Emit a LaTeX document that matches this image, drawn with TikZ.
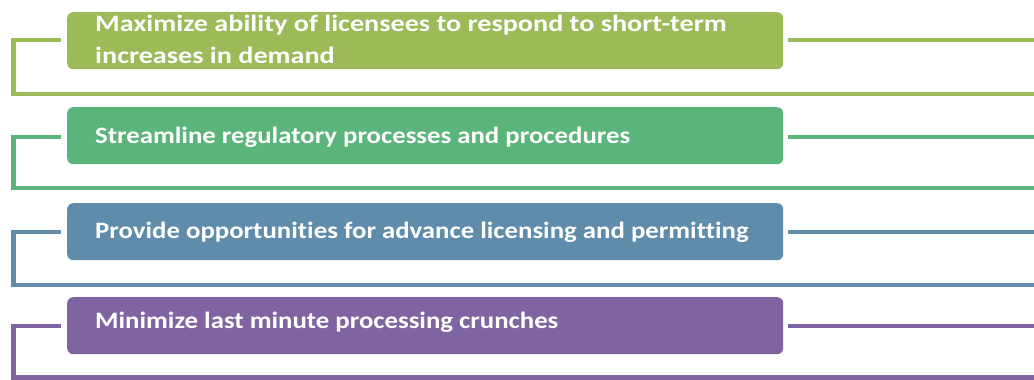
\documentclass[tikz,border=0pt]{standalone}
\usepackage{fontspec}
\setmainfont{Carlito}[Ligatures=NoCommon]
\newfontfamily\barfont{Carlito}[Ligatures=NoCommon,FakeStretch=1.14]
\newfontfamily\barfontw{Carlito}[Ligatures=NoCommon,FakeStretch=1.2]
\definecolor{cA}{HTML}{9BBB59}
\definecolor{cB}{HTML}{5BB47A}
\definecolor{cC}{HTML}{608CAC}
\definecolor{cD}{HTML}{8064A2}
\begin{document}
\begin{tikzpicture}[x=1pt,y=-1pt,
  bar/.style={draw=none,fill=#1,rounded corners=6pt,anchor=north west,minimum width=716pt,minimum height=57pt,inner sep=0pt},
  label/.style={text=white,font=\barfont\fontsize{23.5}{28}\selectfont\bfseries,anchor=base west,inner sep=0pt},
  labelw/.style={label,font=\barfontw\fontsize{23.5}{28}\selectfont\bfseries},
  frame/.style={draw=#1,line width=4.5pt,line cap=butt,line join=miter}]
\useasboundingbox (0,0) rectangle (1034,380);
% row 1
\node[bar=cA] (b1) at (67,12) {};
\node[labelw] (t1) at (95,31) {Maximize ability of licensees to respond to short-term};
\node[labelw] (t1b) at (95,63) {increases in demand};
\coordinate (r1a) at (1034,40);
\coordinate (r1b) at (1034,94);
\draw[frame=cA] ([xshift=-6pt]b1.west |- r1a) -- (13.5,40) -- (13.5,94) -- (r1b);
\draw[frame=cA] ([xshift=5pt]b1.east |- r1a) -- (r1a);
% row 2
\node[bar=cB] (b2) at (67,107) {};
\node[label] (t2) at (95,143) {Streamline regulatory processes and procedures};
\coordinate (r2a) at (1034,137);
\coordinate (r2b) at (1034,188);
\draw[frame=cB] ([xshift=-6pt]b2.west |- r2a) -- (13.5,137) -- (13.5,188) -- (r2b);
\draw[frame=cB] ([xshift=5pt]b2.east |- r2a) -- (r2a);
% row 3
\node[bar=cC] (b3) at (67,203) {};
\node[label] (t3) at (95,238) {Provide opportunities for advance licensing and permitting};
\coordinate (r3a) at (1034,232);
\coordinate (r3b) at (1034,285);
\draw[frame=cC] ([xshift=-6pt]b3.west |- r3a) -- (13.5,232) -- (13.5,285) -- (r3b);
\draw[frame=cC] ([xshift=5pt]b3.east |- r3a) -- (r3a);
% row 4
\node[bar=cD] (b4) at (67,297) {};
\node[label] (t4) at (95,328) {Minimize last minute processing crunches};
\coordinate (r4a) at (1034,326);
\coordinate (r4b) at (1034,377.5);
\draw[frame=cD] ([xshift=-6pt]b4.west |- r4a) -- (13.5,326) -- (13.5,377.5) -- (r4b);
\draw[frame=cD] ([xshift=5pt]b4.east |- r4a) -- (r4a);
\end{tikzpicture}
\end{document}
